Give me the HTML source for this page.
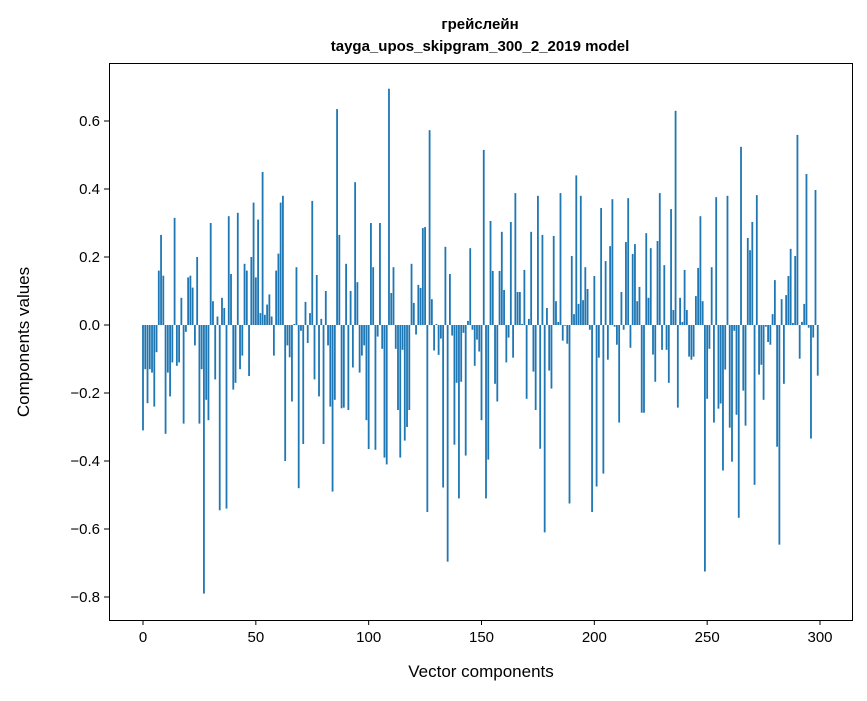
<!DOCTYPE html>
<html><head><meta charset="utf-8"><style>
body{margin:0;background:#fff;}
svg text{font-family:"Liberation Sans","DejaVu Sans",sans-serif;fill:#000;}
</style></head><body>
<svg id="chart" width="867" height="696" xmlns="http://www.w3.org/2000/svg">
<rect width="867" height="696" fill="#fff"/>
<text x="480" y="29" text-anchor="middle" font-size="15" font-weight="bold">грейслейн</text>
<text x="480" y="51" text-anchor="middle" font-size="15" font-weight="bold">tayga_upos_skipgram_300_2_2019 model</text>
<g id="bars"></g>
<g id="xaxis"></g>
<g id="yaxis"></g>
<rect x="109.5" y="63.5" width="743" height="557" fill="none" stroke="#000" stroke-width="1"/>
<text x="481" y="677" text-anchor="middle" font-size="17">Vector components</text>
<text transform="translate(29,342) rotate(-90)" text-anchor="middle" font-size="17">Components values</text>
</svg>
<script>
const values = [
-0.31,-0.13,-0.23,-0.13,-0.14,-0.24,-0.08,0.16,0.265,0.145,
-0.32,-0.14,-0.21,-0.11,0.315,-0.12,-0.11,0.08,-0.29,-0.02,
0.14,0.145,0.11,-0.06,0.2,-0.29,-0.13,-0.79,-0.22,-0.28,
0.30,0.07,-0.16,0.025,-0.545,0.08,0.05,-0.54,0.32,0.15,
-0.19,-0.17,0.33,-0.13,-0.09,0.18,0.16,-0.15,0.2,0.36,
0.14,0.31,0.035,0.45,0.03,0.06,0.09,0.025,-0.09,0.16,
0.21,0.36,0.38,-0.40,-0.06,-0.095,-0.225,0.003,0.17,-0.48,
-0.017,-0.35,0.068,-0.053,0.035,0.365,-0.16,0.147,-0.21,0.018,
-0.35,0.10,-0.06,-0.24,-0.49,-0.22,0.635,0.265,-0.245,-0.243,
0.18,-0.25,0.10,-0.125,0.42,0.126,-0.14,-0.09,-0.06,-0.28,
-0.365,0.30,0.17,-0.367,-0.034,0.30,-0.07,-0.39,-0.41,0.695,
0.094,0.17,-0.07,-0.25,-0.39,-0.073,-0.34,-0.30,-0.25,0.18,
0.065,-0.028,0.118,0.109,0.285,0.288,-0.55,0.573,0.076,-0.075,
0.003,-0.088,-0.04,-0.478,0.23,-0.696,0.15,-0.031,-0.352,-0.17,
-0.51,-0.167,-0.023,-0.384,0.012,0.226,-0.014,-0.12,-0.043,-0.078,
-0.28,0.515,-0.51,-0.396,0.306,0.159,-0.173,-0.225,0.159,0.274,
0.103,-0.11,-0.037,0.303,-0.096,0.388,0.097,0.097,0.003,0.162,
-0.217,0.018,0.274,-0.137,-0.25,0.38,-0.364,0.265,-0.61,0.05,
-0.134,-0.187,0.262,0.07,0.009,0.388,-0.046,-0.002,-0.055,-0.525,
0.203,0.032,0.44,0.062,0.38,0.073,0.17,0.106,-0.014,-0.55,
0.144,-0.475,-0.096,0.344,-0.437,0.188,-0.102,0.232,0.37,-0.005,
-0.058,-0.287,0.097,-0.014,0.244,0.373,-0.067,0.209,0.238,0.07,
0.112,-0.258,-0.258,0.27,0.08,0.226,-0.087,-0.167,0.247,0.388,
-0.073,0.176,-0.073,-0.17,0.341,0.044,0.63,-0.243,0.08,0.009,
0.162,0.044,-0.093,-0.102,-0.093,0.085,0.168,0.32,0.07,-0.725,
-0.217,-0.07,0.17,-0.287,0.376,-0.246,-0.231,-0.428,-0.131,0.38,
-0.302,-0.402,-0.017,-0.264,-0.567,0.524,-0.193,-0.296,0.256,0.22,
0.303,-0.47,0.382,-0.146,-0.117,-0.22,-0.005,-0.05,-0.058,0.032,
0.132,-0.358,-0.646,0.076,-0.173,0.088,0.144,0.224,0.006,0.203,
0.559,-0.099,0.009,0.062,0.444,-0.008,-0.334,-0.037,0.397,-0.149
];
const xTicks = [0,50,100,150,200,250,300];
const yTicks = [-0.8,-0.6,-0.4,-0.2,0.0,0.2,0.4,0.6];
const yTickLabels = ["−0.8","−0.6","−0.4","−0.2","0.0","0.2","0.4","0.6"];

const NS = "http://www.w3.org/2000/svg";
function xScale(i){ return 143 + i * (820 - 143) / 300; }
function yScale(v){ return 325 - v * 340; }

const bars = document.getElementById('bars');
values.forEach((v, i) => {
  const r = document.createElementNS(NS, 'rect');
  const w = 0.8 * (820 - 143) / 300;
  const y0 = yScale(0), y1 = yScale(v);
  r.setAttribute('x', xScale(i) - w / 2);
  r.setAttribute('y', Math.min(y0, y1));
  r.setAttribute('width', w);
  r.setAttribute('height', Math.abs(y1 - y0));
  r.setAttribute('fill', '#1f77b4');
  
  
  bars.appendChild(r);
});

const xa = document.getElementById('xaxis');
xTicks.forEach(t => {
  const x = xScale(t);
  const l = document.createElementNS(NS, 'line');
  l.setAttribute('x1', x); l.setAttribute('x2', x);
  l.setAttribute('y1', 620); l.setAttribute('y2', 625);
  l.setAttribute('stroke', '#000');
  
  
  xa.appendChild(l);
  const tx = document.createElementNS(NS, 'text');
  tx.setAttribute('x', x); tx.setAttribute('y', 642);
  tx.setAttribute('text-anchor', 'middle');
  tx.setAttribute('font-size', '15');
  tx.textContent = String(t);
  
  
  xa.appendChild(tx);
});

const ya = document.getElementById('yaxis');
yTicks.forEach((t, k) => {
  const y = yScale(t);
  const l = document.createElementNS(NS, 'line');
  l.setAttribute('x1', 104); l.setAttribute('x2', 109);
  l.setAttribute('y1', y); l.setAttribute('y2', y);
  l.setAttribute('stroke', '#000');
  
  
  ya.appendChild(l);
  const tx = document.createElementNS(NS, 'text');
  tx.setAttribute('x', 100); tx.setAttribute('y', y + 5);
  tx.setAttribute('text-anchor', 'end');
  tx.setAttribute('font-size', '15');
  tx.textContent = yTickLabels[k];
  
  
  ya.appendChild(tx);
});
</script>
</body></html>
